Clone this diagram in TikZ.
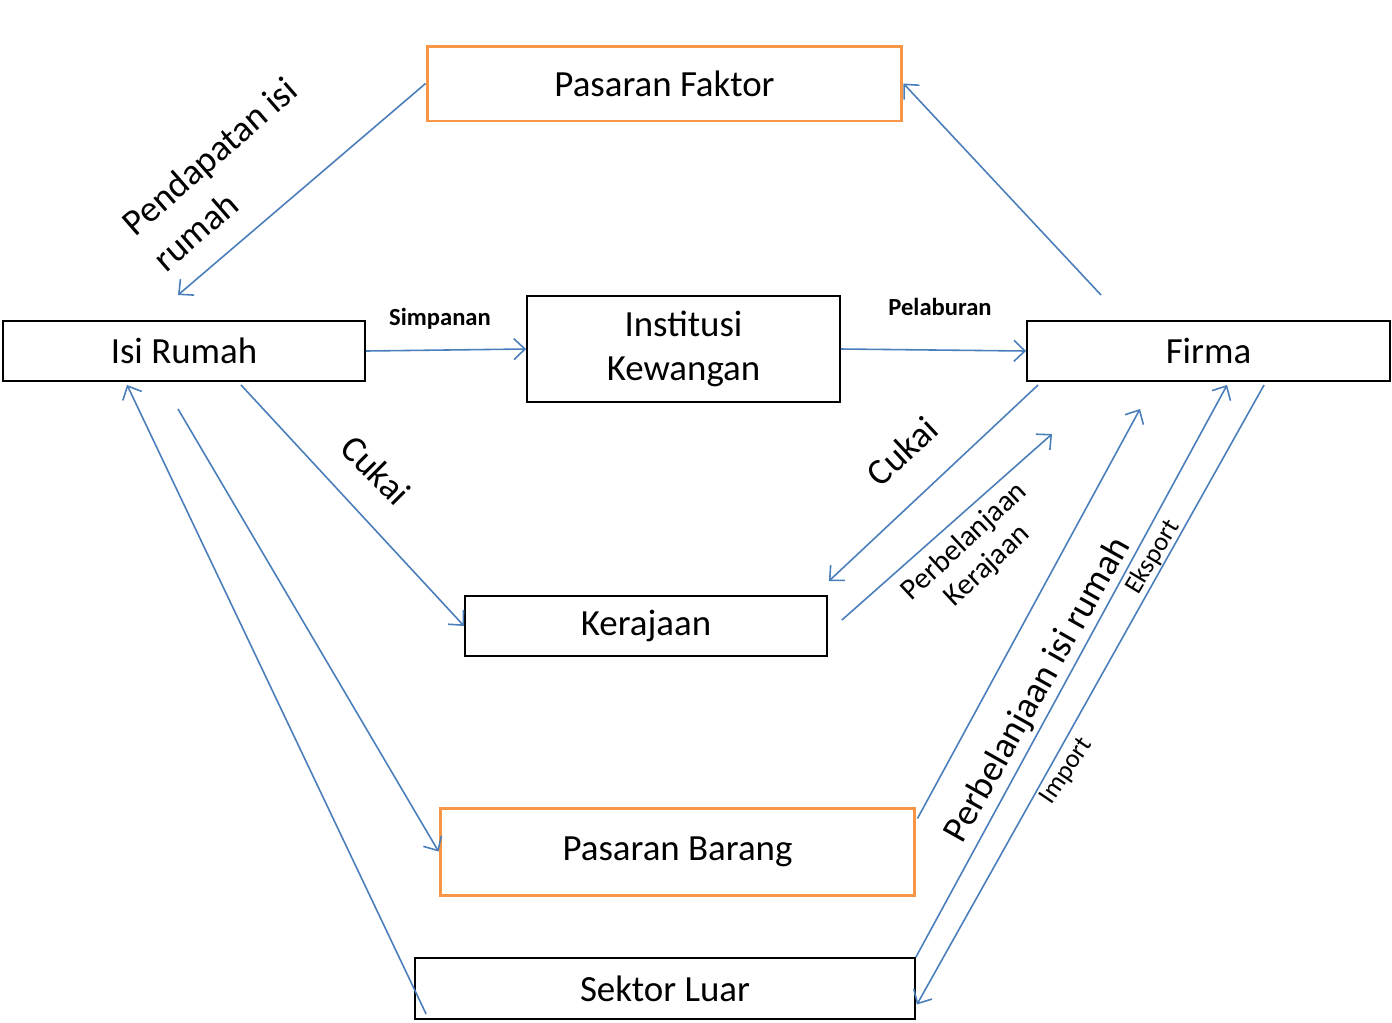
\documentclass[tikz,border=0pt]{standalone}
\usepackage{fontspec}
\setmainfont{Carlito}
\usepackage{tikz}
\usetikzlibrary{arrows.meta,positioning,calc}
\usepackage{xcolor}
\definecolor{flowblue}{HTML}{4A7EBB}
\definecolor{mktorange}{HTML}{F79646}
\tikzset{
  box/.style={draw, rectangle, line width=1.1pt, inner sep=0pt, font=\fontsize{21}{25}\selectfont, align=center},
  mkt/.style={box, draw=mktorange, line width=1.7pt},
  arr/.style={draw=flowblue, line width=0.9pt, -{Straight Barb[length=2.2mm,width=4.2mm]}},
  big/.style={font=\fontsize{21}{27}\selectfont, align=left},
  small/.style={font=\fontsize{17}{19}\selectfont, align=center},
  tiny/.style={font=\fontsize{15}{18}\selectfont, inner sep=1pt},
  tag/.style={font=\fontsize{14}{17}\selectfont\bfseries},
}

\begin{document}
\begin{tikzpicture}[x=0.02cm, y=-0.02cm]
\useasboundingbox (0,0) rectangle (1392,1022);
\node[mkt, minimum width=9.5cm, minimum height=1.5cm] (faktor) at (664.5,83.5) {Pasaran Faktor};
\node[box, minimum width=7.24cm, minimum height=1.2cm] (isi) at (184,351) {Isi Rumah};
\node[box, minimum width=6.26cm, minimum height=2.12cm] (inst) at (683.5,349) {Institusi\\Kewangan};
\node[box, minimum width=7.26cm, minimum height=1.2cm] (firma) at (1208.5,351) {Firma};
\node[box, minimum width=7.24cm, minimum height=1.2cm] (kerajaan) at (646,626) {Kerajaan};
\node[mkt, minimum width=9.5cm, minimum height=1.74cm] (barang) at (677.5,851.5) {Pasaran Barang};
\node[box, minimum width=10cm, minimum height=1.22cm] (luar) at (665,988.5) {Sektor Luar};

\node[big, rotate=41] (lpend) at (225,174) {Pendapatan isi\\rumah};
\node[tag] (lsimp) at (440,319) {Simpanan};
\node[tag] (lpel) at (940,307) {Pelaburan};
\node[big, rotate=-45] (lcukai1) at (376,470) {Cukai};
\node[big, rotate=43] (lcukai2) at (902,451) {Cukai};
\node[small, rotate=43] (lbelk) at (976,554) {Perbelanjaan\\Kerajaan};
\node[big, rotate=60.6] (lbeli) at (1038,690) {Perbelanjaan isi rumah};
\node[tiny, rotate=59] (leks) at (1153,557) {Eksport};
\node[tiny, rotate=56] (limp) at (1067,771) {Import};

\coordinate (incEnd) at (178,295);
\coordinate (facStart) at (1101,295);
\coordinate (govEnd) at (1052,434);
\coordinate (spendEnd) at (1140,409);

\draw[arr] (faktor.west) -- (incEnd);
\draw[arr] (facStart) -- (faktor.east);
\draw[arr] (isi.east) -- (inst.west);
\draw[arr] (inst.east) -- (firma.west);
\draw[arr] ($(isi.south)+(57,3)$) -- (kerajaan.west);
\draw[arr] ($(firma.south west)+(12,3)$) -- ($(kerajaan.north east)+(1,-14)$);
\draw[arr] ($(kerajaan.east)+(14,-6)$) -- (govEnd);
\draw[arr] ($(isi.south)+(-6,27)$) -- (barang.west);
\draw[arr] ($(luar.south west)+(12,-6)$) -- ($(isi.south west)+(125,3)$);
\draw[arr] ($(barang.north east)+(1,12)$) -- (spendEnd);
\draw[arr] (luar.north east) -- ($(firma.south west)+(201,3)$);
\draw[arr] ($(firma.south west)+(238,3)$) -- ($(luar.east)+(1,16)$);
\end{tikzpicture}
\end{document}
